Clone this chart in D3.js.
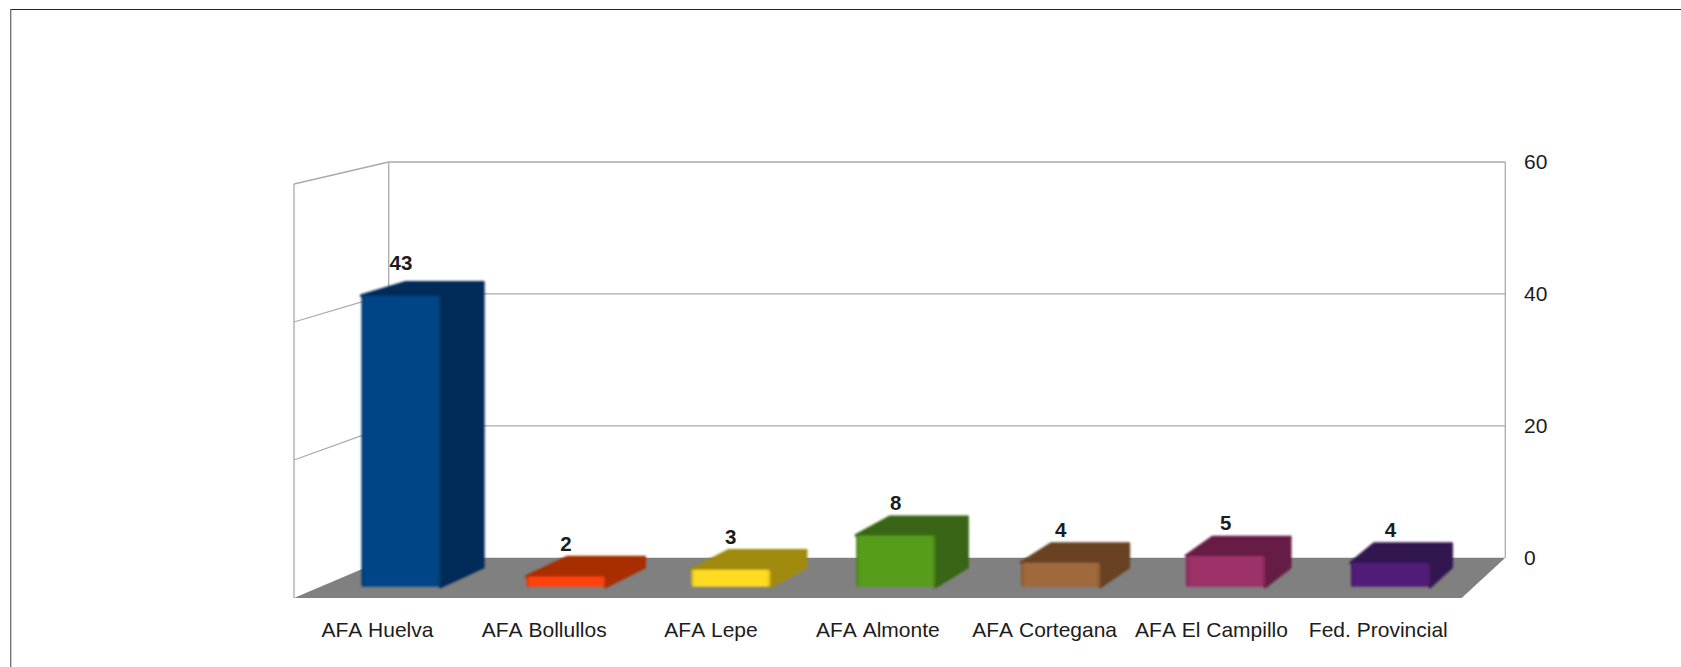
<!DOCTYPE html>
<html><head><meta charset="utf-8">
<script src="https://cdn.jsdelivr.net/npm/d3@7"></script>
<style>html,body{margin:0;padding:0;background:#fff}svg{display:block}text{font-family:"Liberation Sans",Arial,sans-serif;fill:#1c1c1c;font-kerning:none}</style>
</head><body><svg id="c" width="1681" height="667"></svg>
<script>
const categories=["AFA Huelva","AFA Bollullos","AFA Lepe","AFA Almonte","AFA Cortegana","AFA El Campillo","Fed. Provincial"];
const values=[43,2,3,8,4,5,4];
const frontColors=["#004586","#ff420e","#ffdc20","#579d1c","#a0693a","#9c3068","#511e78"];
const topColors=["#002c58","#a82d05","#a08a10","#386512","#674323","#661f44","#331350"];
const yTicks=[0,20,40,60];

const svg=d3.select("#c"),defs=svg.append("defs");
defs.append("filter").attr("id","soft").append("feGaussianBlur").attr("stdDeviation",0.8);
// frame
svg.append("line").attr("x1",10).attr("x2",1681).attr("y1",9.5).attr("y2",9.5).attr("stroke","#222").attr("stroke-width",1.2);
svg.append("line").attr("x1",10.7).attr("x2",10.7).attr("y1",9).attr("y2",667).attr("stroke","#777").attr("stroke-width",1.4);

const L=294,R=1461.7,BL=388.7,BR=1505.3,floorFront=598,floorBack=557.7;
const vp=[2422,-318],depth=0.0215;
const project=(x,y)=>[x+(vp[0]-x)*depth,y+(vp[1]-y)*depth];
const yBack=d3.scaleLinear().domain([0,60]).range([floorBack,162]);
const yLeft=d3.scaleLinear().domain([0,60]).range([floorFront,184]);
const yBar=d3.scaleLinear().domain([0,60]).range([589.2,178.2]);
const xLabel=d3.scaleBand().domain(categories).range([L,R]);
const xBar=d3.scaleBand().domain(categories).range([318.5,1473]).paddingInner(0.52).paddingOuter(0.26);

const grid="#aaaaaa";
svg.append("polygon").attr("points",[[L,floorFront],[BL,floorBack],[BR,floorBack],[R,floorFront]].join(" ")).attr("fill","#808080");
const g=svg.append("g").attr("fill","none").attr("stroke",grid).attr("stroke-width",1.3);
g.selectAll(".b").data(yTicks.slice(1)).join("line").attr("x1",BL).attr("x2",BR).attr("y1",d=>yBack(d)).attr("y2",d=>yBack(d));
g.selectAll(".l").data(yTicks.slice(1)).join("line").attr("x1",L).attr("x2",BL).attr("y1",d=>yLeft(d)).attr("y2",d=>yBack(d));
g.append("line").attr("x1",L).attr("x2",L).attr("y1",yLeft(60)).attr("y2",yLeft(0));
g.append("line").attr("x1",BL).attr("x2",BL).attr("y1",yBack(60)).attr("y2",yBack(0));
g.append("line").attr("x1",BR).attr("x2",BR).attr("y1",yBack(60)).attr("y2",yBack(0));

// bars
const baseY=586.7;
const bars=svg.append("g").attr("filter","url(#soft)");
categories.forEach((c,i)=>{
  const x0=xBar(c),x1=x0+xBar.bandwidth(),t=yBar(values[i])+1;
  const grad=defs.append("linearGradient").attr("id","gr"+i);
  const dark=d3.color(frontColors[i]).darker(0.5).formatHex();
  [[0,dark],[0.05,frontColors[i]],[0.95,frontColors[i]],[1,dark]].forEach(s=>grad.append("stop").attr("offset",s[0]).attr("stop-color",s[1]));
  const face=(pts,fill)=>bars.append("polygon").attr("points",pts.join(" ")).attr("fill",fill).attr("stroke",fill).attr("stroke-width",3).attr("stroke-linejoin","round");
  face([[x1,t],project(x1,t),project(x1,baseY),[x1,baseY]],topColors[i]);
  face([[x0,t],project(x0,t),project(x1,t),[x1,t]],topColors[i]);
  bars.append("rect").attr("x",x0).attr("y",t).attr("width",x1-x0).attr("height",baseY-t).attr("rx",2).attr("fill",`url(#gr${i})`);
});
// value labels
svg.append("g").selectAll("text").data(categories).join("text")
  .attr("x",c=>xBar(c)+xBar.bandwidth()/2).attr("y",(c,i)=>yBar(values[i])-24.5)
  .attr("text-anchor","middle").attr("font-weight","bold").attr("font-size",20.5).text((c,i)=>values[i]);
// axes
const ax=svg.append("g").attr("transform","translate(1524,4.3)").call(d3.axisRight(yBack).tickValues(yTicks).tickSize(0).tickPadding(0));
ax.select(".domain").remove();
ax.selectAll("text").attr("font-size",21).attr("dy","0.1em");
const bx=svg.append("g").attr("transform","translate(0,637)").call(d3.axisBottom(xLabel).tickSize(0).tickPadding(0));
bx.select(".domain").remove();
bx.selectAll("text").attr("font-size",21).attr("dy",0);
ax.attr("font-family",null);bx.attr("font-family",null);
</script></body></html>
